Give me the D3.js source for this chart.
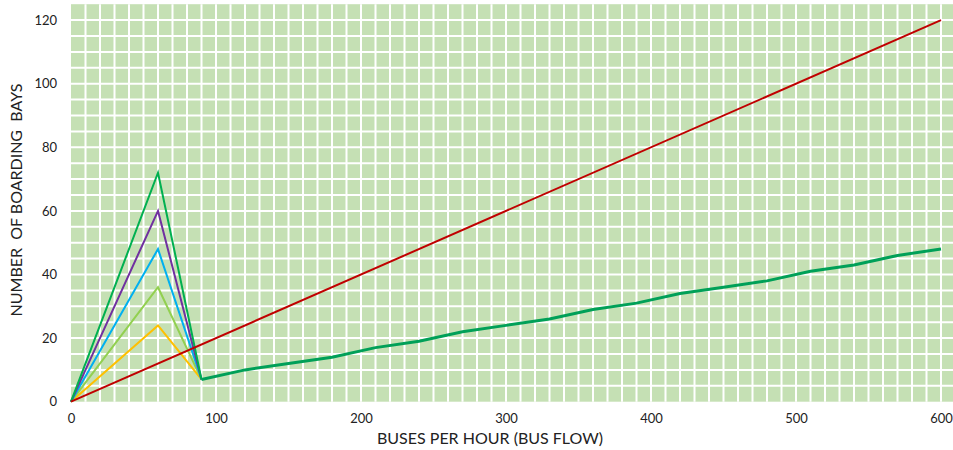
<!DOCTYPE html>
<html>
<head>
<meta charset="utf-8">
<script src="https://cdn.jsdelivr.net/npm/d3@7"></script>
<style>
  html, body { margin: 0; padding: 0; background: #ffffff; }
  svg { display: block; }
  text { font-family: Lato, "Open Sans", "Liberation Sans", sans-serif; fill: #222; }
</style>
</head>
<body>
<svg id="chart" width="953" height="450"></svg>
<script>
// Bus flow (buses per hour) and boarding bays required
const peakFlow = [0, 60, 90];
const bays72 = [0, 72, 7];
const bays60 = [0, 60, 7];
const bays48 = [0, 48, 7];
const bays36 = [0, 36, 7];
const bays24 = [0, 24, 7];

const tailFlow = [90, 120, 150, 180, 210, 240, 270, 300, 330, 360, 390, 420, 450, 480, 510, 540, 570, 600];
const tailBays = [7, 10, 12, 14, 17, 19, 22, 24, 26, 29, 31, 34, 36, 38, 41, 43, 46, 48];

const refFlow = [0, 600];
const refBays = [0, 120];

const xTicks = [0, 100, 200, 300, 400, 500, 600];
const yTicks = [0, 20, 40, 60, 80, 100, 120];

const svg = d3.select("#chart");
const plotLeft = 71, plotRight = 953, plotTop = 4.2, plotBottom = 401.7;

const x = d3.scaleLinear().domain([0, 600]).range([plotLeft, 941]);
const xMax = x.invert(plotRight);
const y = d3.scaleLinear().domain([0, 125]).range([plotBottom, plotTop]);

// plot background
svg.append("rect")
  .attr("x", plotLeft).attr("y", plotTop)
  .attr("width", plotRight - plotLeft).attr("height", plotBottom - plotTop)
  .attr("fill", "#c5e0b4");

// white grid every 10 buses/h and every 5 bays
const grid = svg.append("g").attr("stroke", "#ffffff").attr("stroke-width", 2);
d3.range(10, xMax, 10).forEach(v => {
  grid.append("line").attr("x1", x(v)).attr("x2", x(v)).attr("y1", plotTop).attr("y2", plotBottom);
});
d3.range(5, 125, 5).forEach(v => {
  grid.append("line").attr("x1", plotLeft).attr("x2", plotRight).attr("y1", y(v)).attr("y2", y(v));
});

// axes (labels only)
const xAxis = svg.append("g").attr("transform", `translate(0,${plotBottom})`)
  .call(d3.axisBottom(x).tickValues(xTicks).tickSize(0).tickPadding(12));
xAxis.select(".domain").remove();
xAxis.selectAll("text").attr("font-size", 13).style("fill", "#222");

const yAxis = svg.append("g").attr("transform", `translate(${plotLeft},0)`)
  .call(d3.axisLeft(y).tickValues(yTicks).tickSize(0).tickPadding(14));
yAxis.select(".domain").remove();
yAxis.selectAll("text").attr("font-size", 13).style("fill", "#222");

const line = d3.line().x(d => x(d[0])).y(d => y(d[1]));
const plot = svg.append("g").attr("fill", "none").attr("stroke-linejoin", "miter");

const peaks = [
  { bays: bays24, color: "#ffc000" },
  { bays: bays36, color: "#92d050" },
  { bays: bays48, color: "#00b0f0" },
  { bays: bays60, color: "#7030a0" },
  { bays: bays72, color: "#00b050" }
];
peaks.forEach(s => {
  plot.append("path")
    .datum(peakFlow.map((f, i) => [f, s.bays[i]]))
    .attr("d", line)
    .attr("stroke", s.color)
    .attr("stroke-width", 2);
});

plot.append("path")
  .datum(tailFlow.map((f, i) => [f, tailBays[i]]))
  .attr("d", line)
  .attr("stroke", "#00a058")
  .attr("stroke-width", 3);

plot.append("path")
  .datum(refFlow.map((f, i) => [f, refBays[i]]))
  .attr("d", line)
  .attr("stroke", "#c00000")
  .attr("stroke-width", 2);

// axis titles
svg.append("text")
  .attr("x", 490).attr("y", 444)
  .attr("text-anchor", "middle")
  .attr("font-size", 16)
  .text("BUSES PER HOUR (BUS FLOW)");

svg.append("text")
  .attr("transform", "translate(22,200) rotate(-90)")
  .attr("text-anchor", "middle")
  .attr("font-size", 16)
  .attr("xml:space", "preserve")
  .style("white-space", "pre")
  .text("NUMBER  OF BOARDING  BAYS");
</script>
</body>
</html>
